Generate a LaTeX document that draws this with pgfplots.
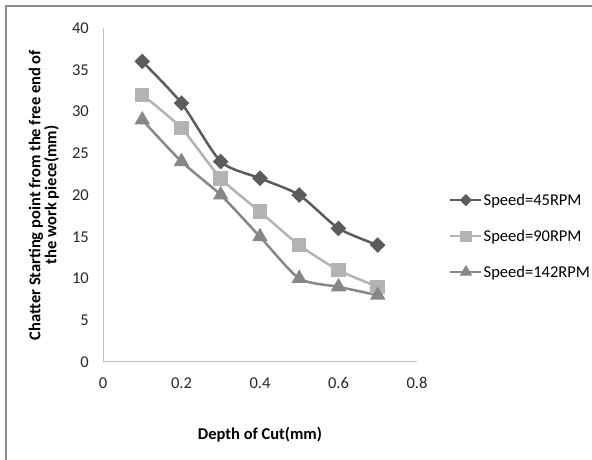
\documentclass[border=0pt]{standalone}
\usepackage{fontspec}
\setmainfont{Carlito}
\usepackage{pgfplots}
\pgfplotsset{compat=1.18}
\definecolor{sA}{HTML}{5C5C5C}
\definecolor{sB}{HTML}{B3B3B3}
\definecolor{sC}{HTML}{878787}
\definecolor{axgray}{HTML}{BFBFBF}
\definecolor{framegray}{HTML}{8C8C8C}
\begin{document}
\begin{tikzpicture}[x=1pt,y=1pt]
\useasboundingbox (0,0) rectangle (592,460);
\draw[color=framegray, line width=1.2pt] (6,0) -- (6,454) -- (592,454);
\begin{axis}[
  at={(103pt,98pt)}, anchor=south west,
  scale only axis, width=314pt, height=334pt,
  xmin=0, xmax=0.8, ymin=0, ymax=40,
  xtick={0,0.2,0.4,0.6,0.8},
  ytick={0,5,10,15,20,25,30,35,40},
  axis x line=bottom, axis y line=left,
  axis line style={color=axgray, line width=1pt, -},
  major tick length=0pt,
  /pgf/number format/assume math mode=true,
  tick label style={font=\fontsize{16.5}{19}\selectfont, text=black!85},
  xticklabel style={anchor=center, yshift=-21pt},
  yticklabel style={anchor=east, inner sep=0pt, xshift=-14pt},
  xlabel={Depth of Cut(mm)},
  xlabel style={at={(axis description cs:0.5,0)}, anchor=center, yshift=-73pt, font=\fontsize{16.5}{16}\selectfont\bfseries},
  ylabel={Chatter Starting point from the free end of\\the work piece(mm)},
  ylabel style={at={(axis description cs:-0.188,0.5)}, anchor=center, align=center, font=\fontsize{16.5}{16}\selectfont\bfseries},
  legend style={at={(axis description cs:1.102,0.377)}, anchor=west, draw=none, fill=none,
    font=\fontsize{16.5}{19}\selectfont, row sep=19pt, inner sep=0pt, cells={anchor=west},
    nodes={inner xsep=1pt}},
  legend image code/.code={\draw[mark repeat=2,mark phase=2,#1] plot coordinates {(0pt,0pt) (15.5pt,0pt) (31pt,0pt)};},
  legend image post style={every mark/.append style={scale=0.72}},
  every axis plot/.append style={line width=2.5pt, smooth, tension=0.4},
]
\addplot[color=sA, mark=square*, mark size=4.3pt, mark options={rotate=45, solid}] coordinates {
  (0.1,36) (0.2,31) (0.3,24) (0.4,22) (0.5,20) (0.6,16) (0.7,14)};
\addlegendentry{Speed=45RPM}
\addplot[color=sB, mark=square*, mark size=6pt] coordinates {
  (0.1,32) (0.2,28) (0.3,22) (0.4,18) (0.5,14) (0.6,11) (0.7,9)};
\addlegendentry{Speed=90RPM}
\addplot[color=sC, mark=triangle*, mark size=6.5pt] coordinates {
  (0.1,29) (0.2,24) (0.3,20) (0.4,15) (0.5,10) (0.6,9) (0.7,8)};
\addlegendentry{Speed=142RPM}
\end{axis}
\end{tikzpicture}
\end{document}
